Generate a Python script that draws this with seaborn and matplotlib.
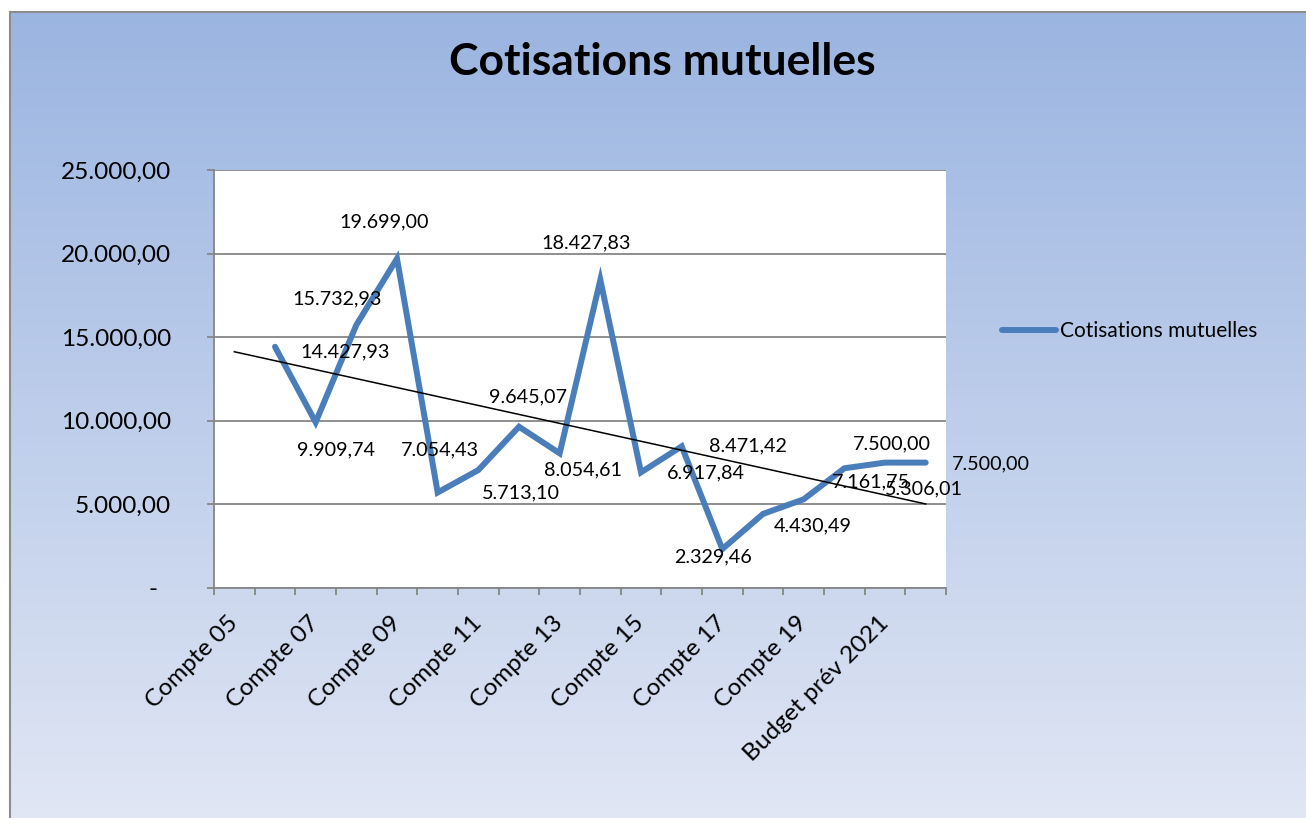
import numpy as np
import matplotlib
matplotlib.use('Agg')
import matplotlib.pyplot as plt
import seaborn as sns

# Catégories (une sur deux est affichée sur l'axe)
categories = ['Compte 05', 'Compte 06', 'Compte 07', 'Compte 08', 'Compte 09', 'Compte 10',
              'Compte 11', 'Compte 12', 'Compte 13', 'Compte 14', 'Compte 15', 'Compte 16',
              'Compte 17', 'Compte 18', 'Compte 19', 'Compte 20', 'Budget prév 2021', 'Budget 2022']
# Cotisations mutuelles (la première catégorie est vide)
cotisations = [np.nan, 14427.93, 9909.74, 15732.93, 19699.00, 5713.10, 7054.43, 9645.07,
               8054.61, 18427.83, 6917.84, 8471.42, 2329.46, 4430.49, 5306.01, 7161.75,
               7500.00, 7500.00]
y_ticks = [0, 5000, 10000, 15000, 20000, 25000]

# décalage des étiquettes de données (pixels, dx vers la droite, dy vers le bas)
label_offsets = [None, (70, 5), (20, 28), (-19, -26), (-13, -37), (83, 0), (-38, -20), (9, -30),
                 (23, 17), (-14, -37), (65, 1), (66, 0), (-9, 8), (50, 12), (120, -10),
                 (27, 14), (7, -19), (65, 1)]

blue = '#4A7EBB'
grey = '#868686'


def fr(v):
    s = f"{v:,.2f}"
    return s.replace(',', 'X').replace('.', ',').replace('X', '.')


plt.rcParams['font.family'] = ['Lato', 'DejaVu Sans']

W, H = 1306, 818
fig = plt.figure(figsize=(W / 100, H / 100), dpi=100)
fig.patch.set_facecolor('white')

# fond dégradé
bg = fig.add_axes([10 / W, 0, 1 - 10 / W, 1 - 12 / H])
top_c = np.array([155, 181, 225]) / 255
bot_c = np.array([224, 230, 244]) / 255
t = np.linspace(0, 1, 256)[:, None]
grad = top_c[None, :] * (1 - t) + bot_c[None, :] * t
bg.imshow(grad[:, None, :], aspect='auto', extent=[0, 1, 0, 1])
bg.set_xlim(0, 1)
bg.set_ylim(0, 1)
bg.set_axis_off()
fig.add_artist(plt.Line2D([10 / W, 10 / W], [0, 1 - 12 / H], color='#8c8c8c', lw=1.5))
fig.add_artist(plt.Line2D([10 / W, 1], [1 - 12 / H, 1 - 12 / H], color='#8c8c8c', lw=1.5))

ax = fig.add_axes([214 / W, 1 - 588 / H, (946 - 214) / W, (588 - 170) / H])
ax.set_facecolor('white')

x = np.arange(len(categories))
sns.lineplot(x=x, y=cotisations, ax=ax, color=blue, linewidth=4.3, legend=False,
             solid_capstyle='round', solid_joinstyle='miter')

# courbe de tendance linéaire
vals = np.array(cotisations)
ok = ~np.isnan(vals)
a, b = np.polyfit(x[ok], vals[ok], 1)
ax.plot([x[0], x[-1]], [a * x[0] + b, a * x[-1] + b], color='black', lw=1.1, zorder=3)

for i, v in enumerate(cotisations):
    if np.isnan(v):
        continue
    dx, dy = label_offsets[i]
    ax.annotate(fr(v), (i, v), xytext=(dx * 0.72, -dy * 0.72), textcoords='offset points',
                ha='center', va='center', fontsize=14.2, color='black', zorder=4)

ax.set_xlim(-0.5, len(categories) - 0.5)
ax.set_ylim(0, 25000)
ax.set_xlabel('')
ax.set_ylabel('')

ax.set_yticks(y_ticks)
ax.set_yticklabels(['-  ' if v == 0 else fr(v) for v in y_ticks])
ax.tick_params(axis='y', length=5, width=1.3, color=grey, pad=26, labelsize=17.6)

ax.set_xticks(x[::2])
ax.set_xticklabels(categories[::2], rotation=45, ha='right', va='center', rotation_mode='anchor')
ax.set_xticks(np.arange(-0.5, len(categories), 1), minor=True)
ax.tick_params(axis='x', which='major', length=0, pad=23, labelsize=17.6)
ax.tick_params(axis='x', which='minor', length=5, width=1.3, color=grey)

ax.yaxis.grid(True, color=grey, lw=1.3)
ax.set_axisbelow(True)
for s in ['top', 'right']:
    ax.spines[s].set_visible(False)
for s in ['left', 'bottom']:
    ax.spines[s].set_color(grey)
    ax.spines[s].set_linewidth(1.3)

fig.text(662 / W, 1 - 62 / H, 'Cotisations mutuelles', ha='center', va='center',
         fontsize=32, fontweight='bold')

fig.legend([ax.lines[0]], ['Cotisations mutuelles'], loc='center left',
           bbox_to_anchor=(1002 / W, 1 - 331 / H), frameon=False, fontsize=15,
           handlelength=2.6, handletextpad=0.2, borderpad=0, borderaxespad=0)

fig.savefig('out.png', dpi=100)
